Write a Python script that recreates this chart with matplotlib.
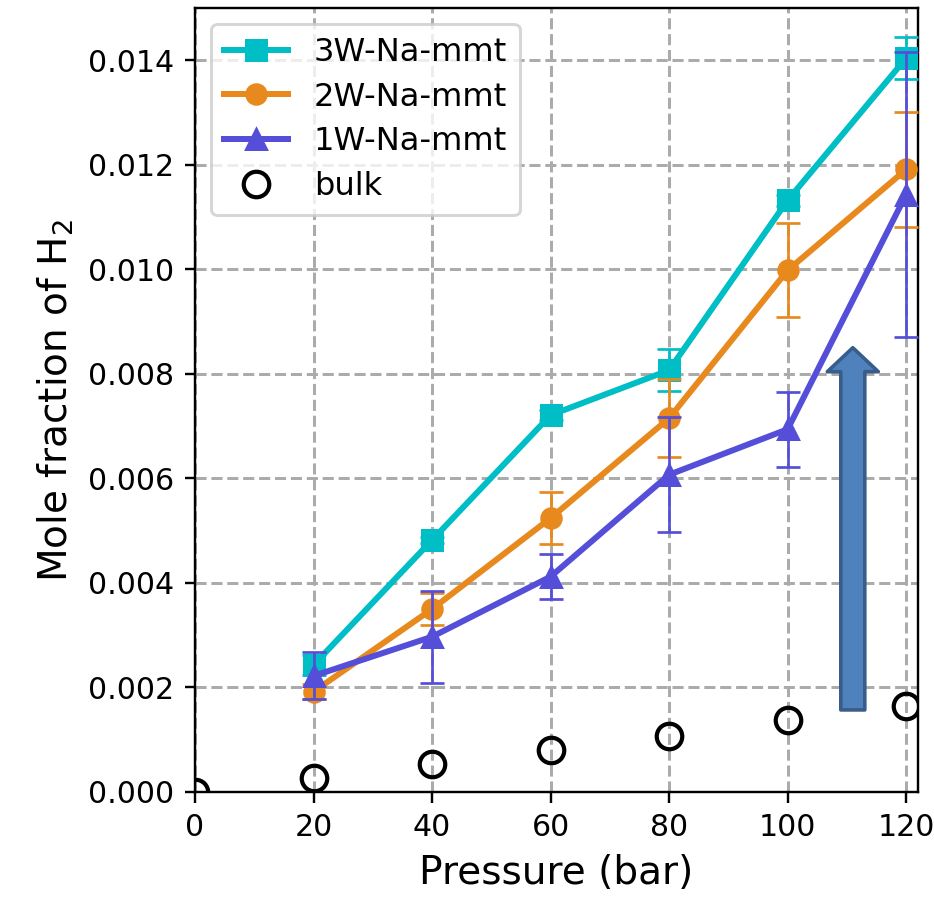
import matplotlib
matplotlib.use('Agg')
import matplotlib.pyplot as plt
from matplotlib.patches import FancyArrowPatch

# --- Data ---
pressure = [20, 40, 60, 80, 100, 120]
pressure_bulk = [0, 20, 40, 60, 80, 100, 120]

x3w = [0.00243, 0.00482, 0.00721, 0.00807, 0.01132, 0.01404]
e3w = [0.00020, 0.00006, 0.00010, 0.00040, 0.00010, 0.00040]

x2w = [0.00192, 0.00350, 0.00524, 0.00715, 0.00998, 0.01191]
e2w = [0.00015, 0.00030, 0.00050, 0.00075, 0.00090, 0.00110]

x1w = [0.00222, 0.00297, 0.00412, 0.00607, 0.00694, 0.01143]
e1w = [0.00045, 0.00088, 0.00043, 0.00110, 0.00072, 0.00272]

xbulk = [0.0, 0.00027, 0.00053, 0.00080, 0.00108, 0.00137, 0.00164]

c3w = '#00BEC5'
c2w = '#E8891E'
c1w = '#544ED8'

fig = plt.figure(figsize=(935 / 216, 904 / 216), dpi=216)
ax = fig.add_axes([0.2086, 0.1239, 0.7732, 0.8673])

ax.grid(True, linestyle='--', color='#ababab', linewidth=1.0, zorder=0)
ax.set_axisbelow(True)

# --- Series with error bars ---
series = [
    (x3w, e3w, c3w, 's', '3W-Na-mmt'),
    (x2w, e2w, c2w, 'o', '2W-Na-mmt'),
    (x1w, e1w, c1w, '^', '1W-Na-mmt'),
]
for z, (vals, errs, col, mk, lab) in enumerate(series):
    ax.errorbar(pressure, vals, yerr=errs, fmt='none', ecolor=col,
                elinewidth=0.9, capsize=4, capthick=0.9, zorder=3 + z)
    ax.plot(pressure, vals, color=col, marker=mk, markersize=6.5,
            linewidth=2.0, label=lab, zorder=3 + z)

ax.plot(pressure_bulk, xbulk, linestyle='none', marker='o', markersize=8.5,
        markerfacecolor='none', markeredgecolor='black', markeredgewidth=1.4,
        label='bulk', zorder=6)

# --- Block arrow ---
arrow = FancyArrowPatch((111, 0.00157), (111, 0.0085),
                        arrowstyle='simple,head_width=17,head_length=8,tail_width=8',
                        mutation_scale=1, shrinkA=0, shrinkB=0,
                        facecolor='#4F81BD', edgecolor='#385D8A', linewidth=1.2,
                        zorder=7)
ax.add_patch(arrow)

ax.set_xlim(0, 122)
ax.set_ylim(0, 0.015)
ax.set_xticks([0, 20, 40, 60, 80, 100, 120])
ax.set_yticks([0.000, 0.002, 0.004, 0.006, 0.008, 0.010, 0.012, 0.014])
ax.tick_params(labelsize=10)
ax.set_xlabel('Pressure (bar)', fontsize=13)
ax.set_ylabel('Mole fraction of H$_2$', fontsize=13)

ax.legend(loc='upper left', fontsize=10.7, labelspacing=0.43)

fig.savefig('out.png', dpi=216)
